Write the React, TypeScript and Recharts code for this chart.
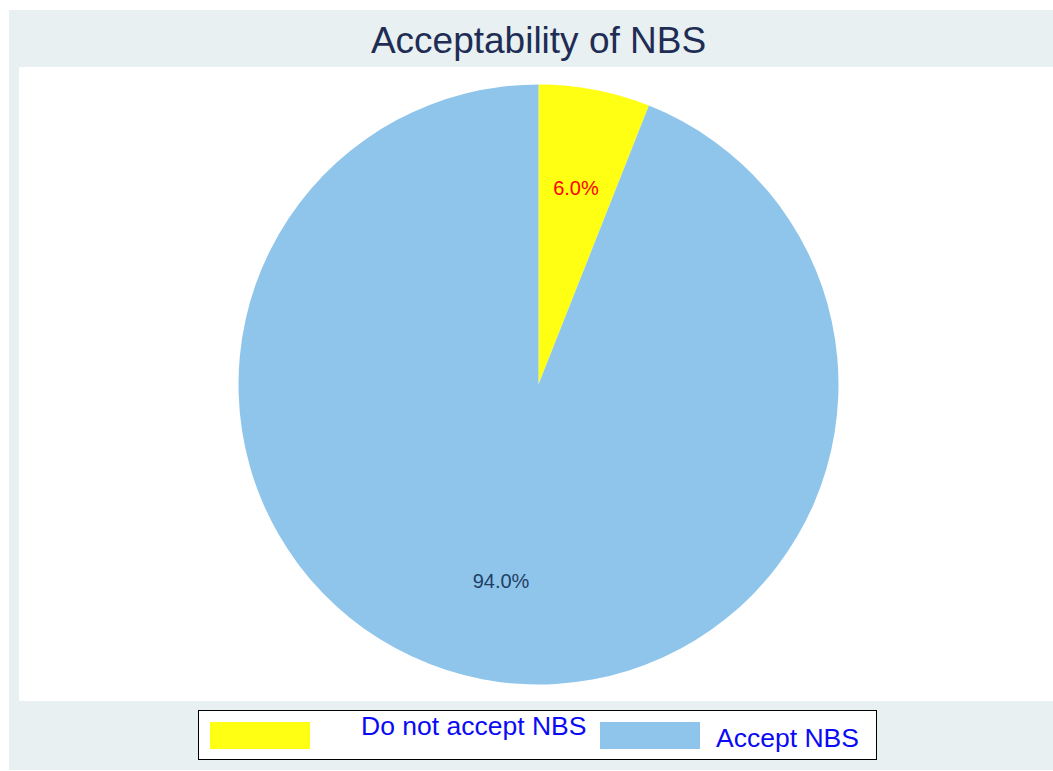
import React from 'react';
import { PieChart, Pie, Cell, Legend } from 'recharts';

const categories = ['Do not accept NBS', 'Accept NBS'];
const shares = [6.0, 94.0];
const sliceColors = ['#FFFF14', '#8FC5EA'];
const labelColors = ['#FF0000', '#1F3F66'];

const data = categories.map((name, i) => ({ name, value: shares[i] }));

const FONT = '"Liberation Sans", Arial, sans-serif';
const RAD = Math.PI / 180;

const renderLabel = (props: any) => {
  const { cx, cy, midAngle, outerRadius, index, value } = props;
  const r = outerRadius * (2 / 3);
  const x = cx + r * Math.cos(-midAngle * RAD);
  const y = cy + r * Math.sin(-midAngle * RAD);
  return (
    <text
      x={x}
      y={y}
      fill={labelColors[index]}
      textAnchor="middle"
      dominantBaseline="central"
      fontSize={20}
      fontFamily={FONT}
    >
      {`${Number(value).toFixed(1)}%`}
    </text>
  );
};

const LegendBox = ({ payload }: any) => {
  const items = [...(payload || [])].sort(
    (a: any, b: any) => categories.indexOf(a.value) - categories.indexOf(b.value)
  );
  return (
    <div
      style={{
        position: 'relative',
        width: 677,
        height: 48,
        border: '1px solid #000',
        background: '#fff',
        fontFamily: FONT,
        fontSize: 26.5,
        color: '#0A0AF5',
      }}
    >
      {items.map((p: any, i: number) => (
        <React.Fragment key={p.value}>
          <div
            style={{
              position: 'absolute',
              left: i === 0 ? 11 : 401,
              top: 11,
              width: 100,
              height: 27,
              background: p.color,
            }}
          />
          <div
            style={{
              position: 'absolute',
              left: i === 0 ? 162 : 517,
              top: i === 0 ? 0 : 12,
              lineHeight: '30px',
              whiteSpace: 'nowrap',
            }}
          >
            {p.value}
          </div>
        </React.Fragment>
      ))}
    </div>
  );
};

export default function App() {
  return (
    <div style={{ position: 'absolute', left: 0, top: 0, width: 1053, height: 771, background: '#fff' }}>
      <div style={{ position: 'absolute', left: 9, top: 10, width: 1044, height: 760, background: '#E8F0F2' }} />
      <div style={{ position: 'absolute', left: 19, top: 67, width: 1034, height: 634, background: '#fff' }} />
      <div
        style={{
          position: 'absolute',
          left: 0,
          top: 20,
          width: 1077,
          textAlign: 'center',
          fontFamily: FONT,
          fontSize: 37,
          lineHeight: '42px',
          color: '#1F2D55',
        }}
      >
        Acceptability of NBS
      </div>
      <div style={{ position: 'absolute', left: 0, top: 0 }}>
        <PieChart width={1053} height={771}>
          <Pie
            data={data}
            dataKey="value"
            nameKey="name"
            cx={533.5}
            cy={379.5}
            outerRadius={300}
            startAngle={90}
            endAngle={-270}
            stroke="none"
            label={renderLabel}
            labelLine={false}
            isAnimationActive={false}
          >
            {data.map((entry, index) => (
              <Cell key={`cell-${index}`} fill={sliceColors[index]} stroke="none" />
            ))}
          </Pie>
          <Legend
            content={<LegendBox />}
            wrapperStyle={{ position: 'absolute', left: 198, top: 710, width: 679, height: 50 }}
          />
        </PieChart>
      </div>
    </div>
  );
}
